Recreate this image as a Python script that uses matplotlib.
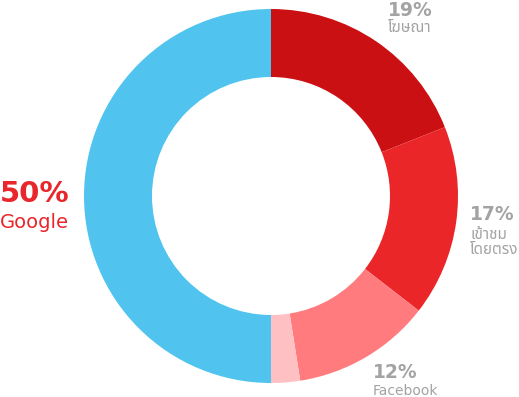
import matplotlib
matplotlib.use("Agg")
import matplotlib.pyplot as plt
from matplotlib import font_manager
from matplotlib.patches import Wedge

labels = ["โฆษณา", "เข้าชม\nโดยตรง", "Facebook", "", "Google"]
values = [19, 16.5, 12, 2.5, 50]
pct_labels = ["19%", "17%", "12%", "", "50%"]
colors = ["#CB1013", "#EA2629", "#FF7B7E", "#FFC0C3", "#50C4EE"]

available = {f.name for f in font_manager.fontManager.ttflist}
thai = None
for cand in ["Noto Sans Thai", "Noto Sans Thai UI", "Noto Sans Thai Looped",
             "Sarabun", "Prompt", "Kanit", "Bai Jamjuree", "Athiti"]:
    if cand in available:
        thai = cand
        break
fams = ["DejaVu Sans"] + ([thai] if thai else [])
plt.rcParams['font.family'] = fams
thai_fams = ([thai] if thai else []) + ["DejaVu Sans"]

fig = plt.figure(figsize=(5.19, 3.97), dpi=100)
ax = fig.add_axes([0, 0, 1, 1])
ax.set_xlim(0, 519)
ax.set_ylim(397, 0)
ax.axis('off')

cx, cy, R = 271, 196, 187
start = 0.0
total = sum(values)
for v, c in zip(values, colors):
    ang = v / total * 360
    w = Wedge((cx, cy), R, -90 + start, -90 + start + ang, width=68,
              facecolor=c, edgecolor='none')
    ax.add_patch(w)
    start += ang

grey = "#A3A3A3"
ax.text(388, 10, pct_labels[0], fontsize=13.5, fontweight='bold', color=grey, va='center', ha='left')
ax.text(388, 29, labels[0], fontsize=11, family=thai_fams, color=grey, va='center', ha='left')
ax.text(470, 215, pct_labels[1], fontsize=13.5, fontweight='bold', color=grey, va='center', ha='left')
ax.text(470, 243, labels[1], fontsize=11, family=thai_fams, color=grey, va='center', ha='left', linespacing=1.0)
ax.text(373, 372, pct_labels[2], fontsize=13.5, fontweight='bold', color=grey, va='center', ha='left')
ax.text(373, 391, labels[2], fontsize=10, color=grey, va='center', ha='left')
ax.text(0, 194, pct_labels[4], fontsize=21, fontweight='bold', color="#E8262B", va='center', ha='left')
ax.text(0, 222, labels[4], fontsize=14, color="#E8262B", va='center', ha='left')

fig.savefig("out.png", dpi=100)
